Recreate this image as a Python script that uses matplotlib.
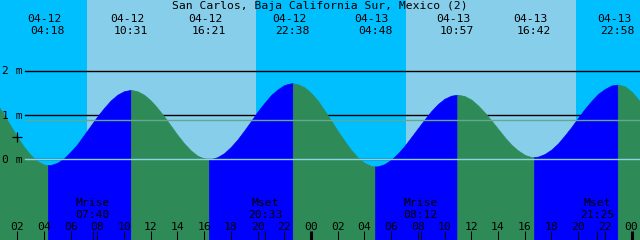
#!/usr/bin/env python3

from __future__ import annotations

import numpy as np

import matplotlib
matplotlib.use("Agg")
import matplotlib.pyplot as plt


TITLE = "San Carlos, Baja California Sur, Mexico (2)"

# tide extremes (local time) and heights in metres
tide_times = ["04-12 04:18", "04-12 10:31", "04-12 16:21", "04-12 22:38",
              "04-13 04:48", "04-13 10:57", "04-13 16:42", "04-13 22:58"]
tide_heights = [-0.13, 1.57, 0.00, 1.72, -0.16, 1.46, 0.05, 1.69]

# half-hourly readings of the curve, from 04-12 00:00 onwards
curve_hours = [i * 0.5 for i in range(99)]
curve_heights = [
    1.46, 1.25, 1.01, 0.76, 0.51, 0.28, 0.10, -0.04, -0.12, -0.13,   # 00:00
    -0.08, 0.02, 0.17, 0.34, 0.55, 0.76, 0.97, 1.16, 1.33, 1.46,     # 05:00
    1.54, 1.57, 1.54, 1.46, 1.33, 1.16, 0.97, 0.76, 0.55, 0.36,      # 10:00
    0.20, 0.08, 0.02, 0.00, 0.05, 0.14, 0.28, 0.45, 0.65, 0.86,      # 15:00
    1.08, 1.27, 1.45, 1.58, 1.68, 1.72, 1.70, 1.63, 1.50, 1.33,      # 20:00
    1.11, 0.88, 0.64, 0.42, 0.21, 0.04, -0.08, -0.15, -0.16, -0.11,  # 04-13 01:00
    -0.01, 0.13, 0.30, 0.50, 0.70, 0.90, 1.09, 1.25, 1.37, 1.44,     # 06:00
    1.46, 1.43, 1.35, 1.22, 1.06, 0.88, 0.69, 0.50, 0.33, 0.20,      # 11:00
    0.10, 0.05, 0.06, 0.12, 0.22, 0.36, 0.54, 0.73, 0.94, 1.14,      # 16:00
    1.32, 1.48, 1.59, 1.67, 1.69, 1.65, 1.53, 1.36, 1.14,            # 21:00
]

sun_times = ["04-12 07:14", "04-12 19:53", "04-13 07:07", "04-13 19:50"]

moon_kinds = ["Mrise", "Mset", "Mrise", "Mset"]
moon_times = ["04-12 07:40", "04-12 20:33", "04-13 08:12", "04-13 21:25"]

depth_levels = [0, 1, 2]
msl_level = 0.88
mark_time, mark_level = "04-12 02:00", 0.5
hour_ticks = list(range(2, 49, 2))

NIGHT = "#00bfff"
DAY = "#87ceeb"
FLOOD = "#0000ff"
EBB = "#2e8b57"
DATUM = "#8fd2e6"
MSL = "#62a98f"

# pixel geometry of the 640x240 image
W, H = 640, 240
PX_PER_HOUR = 13.355
X0_PX = -9.5          # pixel column of 04-12 00:00
ZERO_PX = 159.3       # pixel row of 0 m
PX_PER_M = 44.2


def to_hours(stamp: str) -> float:
    day, hm = stamp.split()
    hh, mm = hm.split(":")
    return (int(day[3:]) - 12) * 24 + int(hh) + int(mm) / 60.0


def yfrac(row: float) -> float:
    return 1.0 - row / H


def main() -> None:
    plt.rcParams["font.family"] = ["DejaVu Sans Mono"]
    fs = 8.2

    fig = plt.figure(figsize=(6.4, 2.4), dpi=100)
    ax = fig.add_axes([0, 0, 1, 1])
    ax.set_axis_off()

    x_lo = -X0_PX / PX_PER_HOUR
    x_hi = (W - X0_PX) / PX_PER_HOUR
    y_hi = ZERO_PX / PX_PER_M
    y_lo = (ZERO_PX - H) / PX_PER_M
    ax.set_xlim(x_lo, x_hi)
    ax.set_ylim(y_lo, y_hi)

    # sky: night / day bands
    sun = [to_hours(s) for s in sun_times]
    edges = [x_lo] + sun + [x_hi]
    for i, (a, b) in enumerate(zip(edges[:-1], edges[1:])):
        ax.axvspan(a, b, color=NIGHT if i % 2 == 0 else DAY, lw=0, zorder=0)

    # depth lines (behind the water)
    xmin = 25 / W
    for lv in depth_levels:
        ax.axhline(lv, xmin=xmin, xmax=1, color="black", lw=1.0, zorder=1)

    # water, blue while rising and green while falling
    ext_t = [to_hours(s) for s in tide_times]
    t = np.array(curve_hours + ext_t, dtype=float)
    y = np.array(curve_heights + tide_heights, dtype=float)
    order = np.argsort(t, kind="stable")
    t, y = t[order], y[order]
    bounds = [t[0]] + ext_t + [t[-1]]
    for a, b in zip(bounds[:-1], bounds[1:]):
        m = (t >= a) & (t <= b)
        rising = y[m][-1] > y[m][0]
        c = FLOOD if rising else EBB
        ax.fill_between(t[m], y[m], y_lo, color=c, ec=c, lw=0.5, zorder=2)

    ax.axhline(0, xmin=xmin, xmax=1, color=DATUM, lw=1.0, zorder=3)
    ax.axhline(msl_level, xmin=xmin, xmax=1, color=MSL, lw=1.0, zorder=3)

    for lv in depth_levels:
        ax.annotate(f"{lv} m", xy=(0, lv), xycoords=ax.get_yaxis_transform(),
                    xytext=(1.5, -3.4), textcoords="offset pixels",
                    ha="left", va="baseline", fontsize=fs, zorder=5)

    ax.plot([to_hours(mark_time)], [mark_level], marker="+", ms=6.5,
            mew=0.9, color="black", zorder=5)

    # top labels
    ax.text(0.5, yfrac(9.3), TITLE, transform=ax.transAxes, ha="center",
            va="baseline", fontsize=fs, zorder=5)
    xt = ax.get_xaxis_transform()
    for stamp, tt in zip(tide_times, ext_t):
        day, hm = stamp.split()
        ax.annotate(day, xy=(tt, yfrac(21.7)), xycoords=xt, xytext=(-3.5, 0),
                    textcoords="offset pixels", ha="center", va="baseline",
                    fontsize=fs, zorder=5)
        ax.annotate(hm, xy=(tt, yfrac(34.0)), xycoords=xt, ha="center",
                    va="baseline", fontsize=fs, zorder=5)

    # moon events
    for kind, stamp in zip(moon_kinds, moon_times):
        mt = to_hours(stamp)
        ax.text(mt, yfrac(206.0), kind, transform=xt, ha="center",
                va="baseline", fontsize=fs, zorder=5)
        ax.text(mt, yfrac(218.0), stamp.split()[1], transform=xt, ha="center",
                va="baseline", fontsize=fs, zorder=5)
        ax.vlines(mt, 0, yfrac(230.7), transform=xt, color="black", lw=0.75,
                  zorder=5)

    # hour ticks, midnight drawn heavier
    for hr in hour_ticks:
        ax.text(hr, yfrac(230.0), f"{hr % 24:02d}", transform=xt, ha="center",
                va="baseline", fontsize=fs, zorder=5)
        lw = 2.2 if hr % 24 == 0 else 0.75
        ax.vlines(hr, 0, yfrac(230.7), transform=xt, color="black", lw=lw,
                  zorder=5)

    fig.savefig("out.png", dpi=100)
    plt.close(fig)


if __name__ == "__main__":
    main()
